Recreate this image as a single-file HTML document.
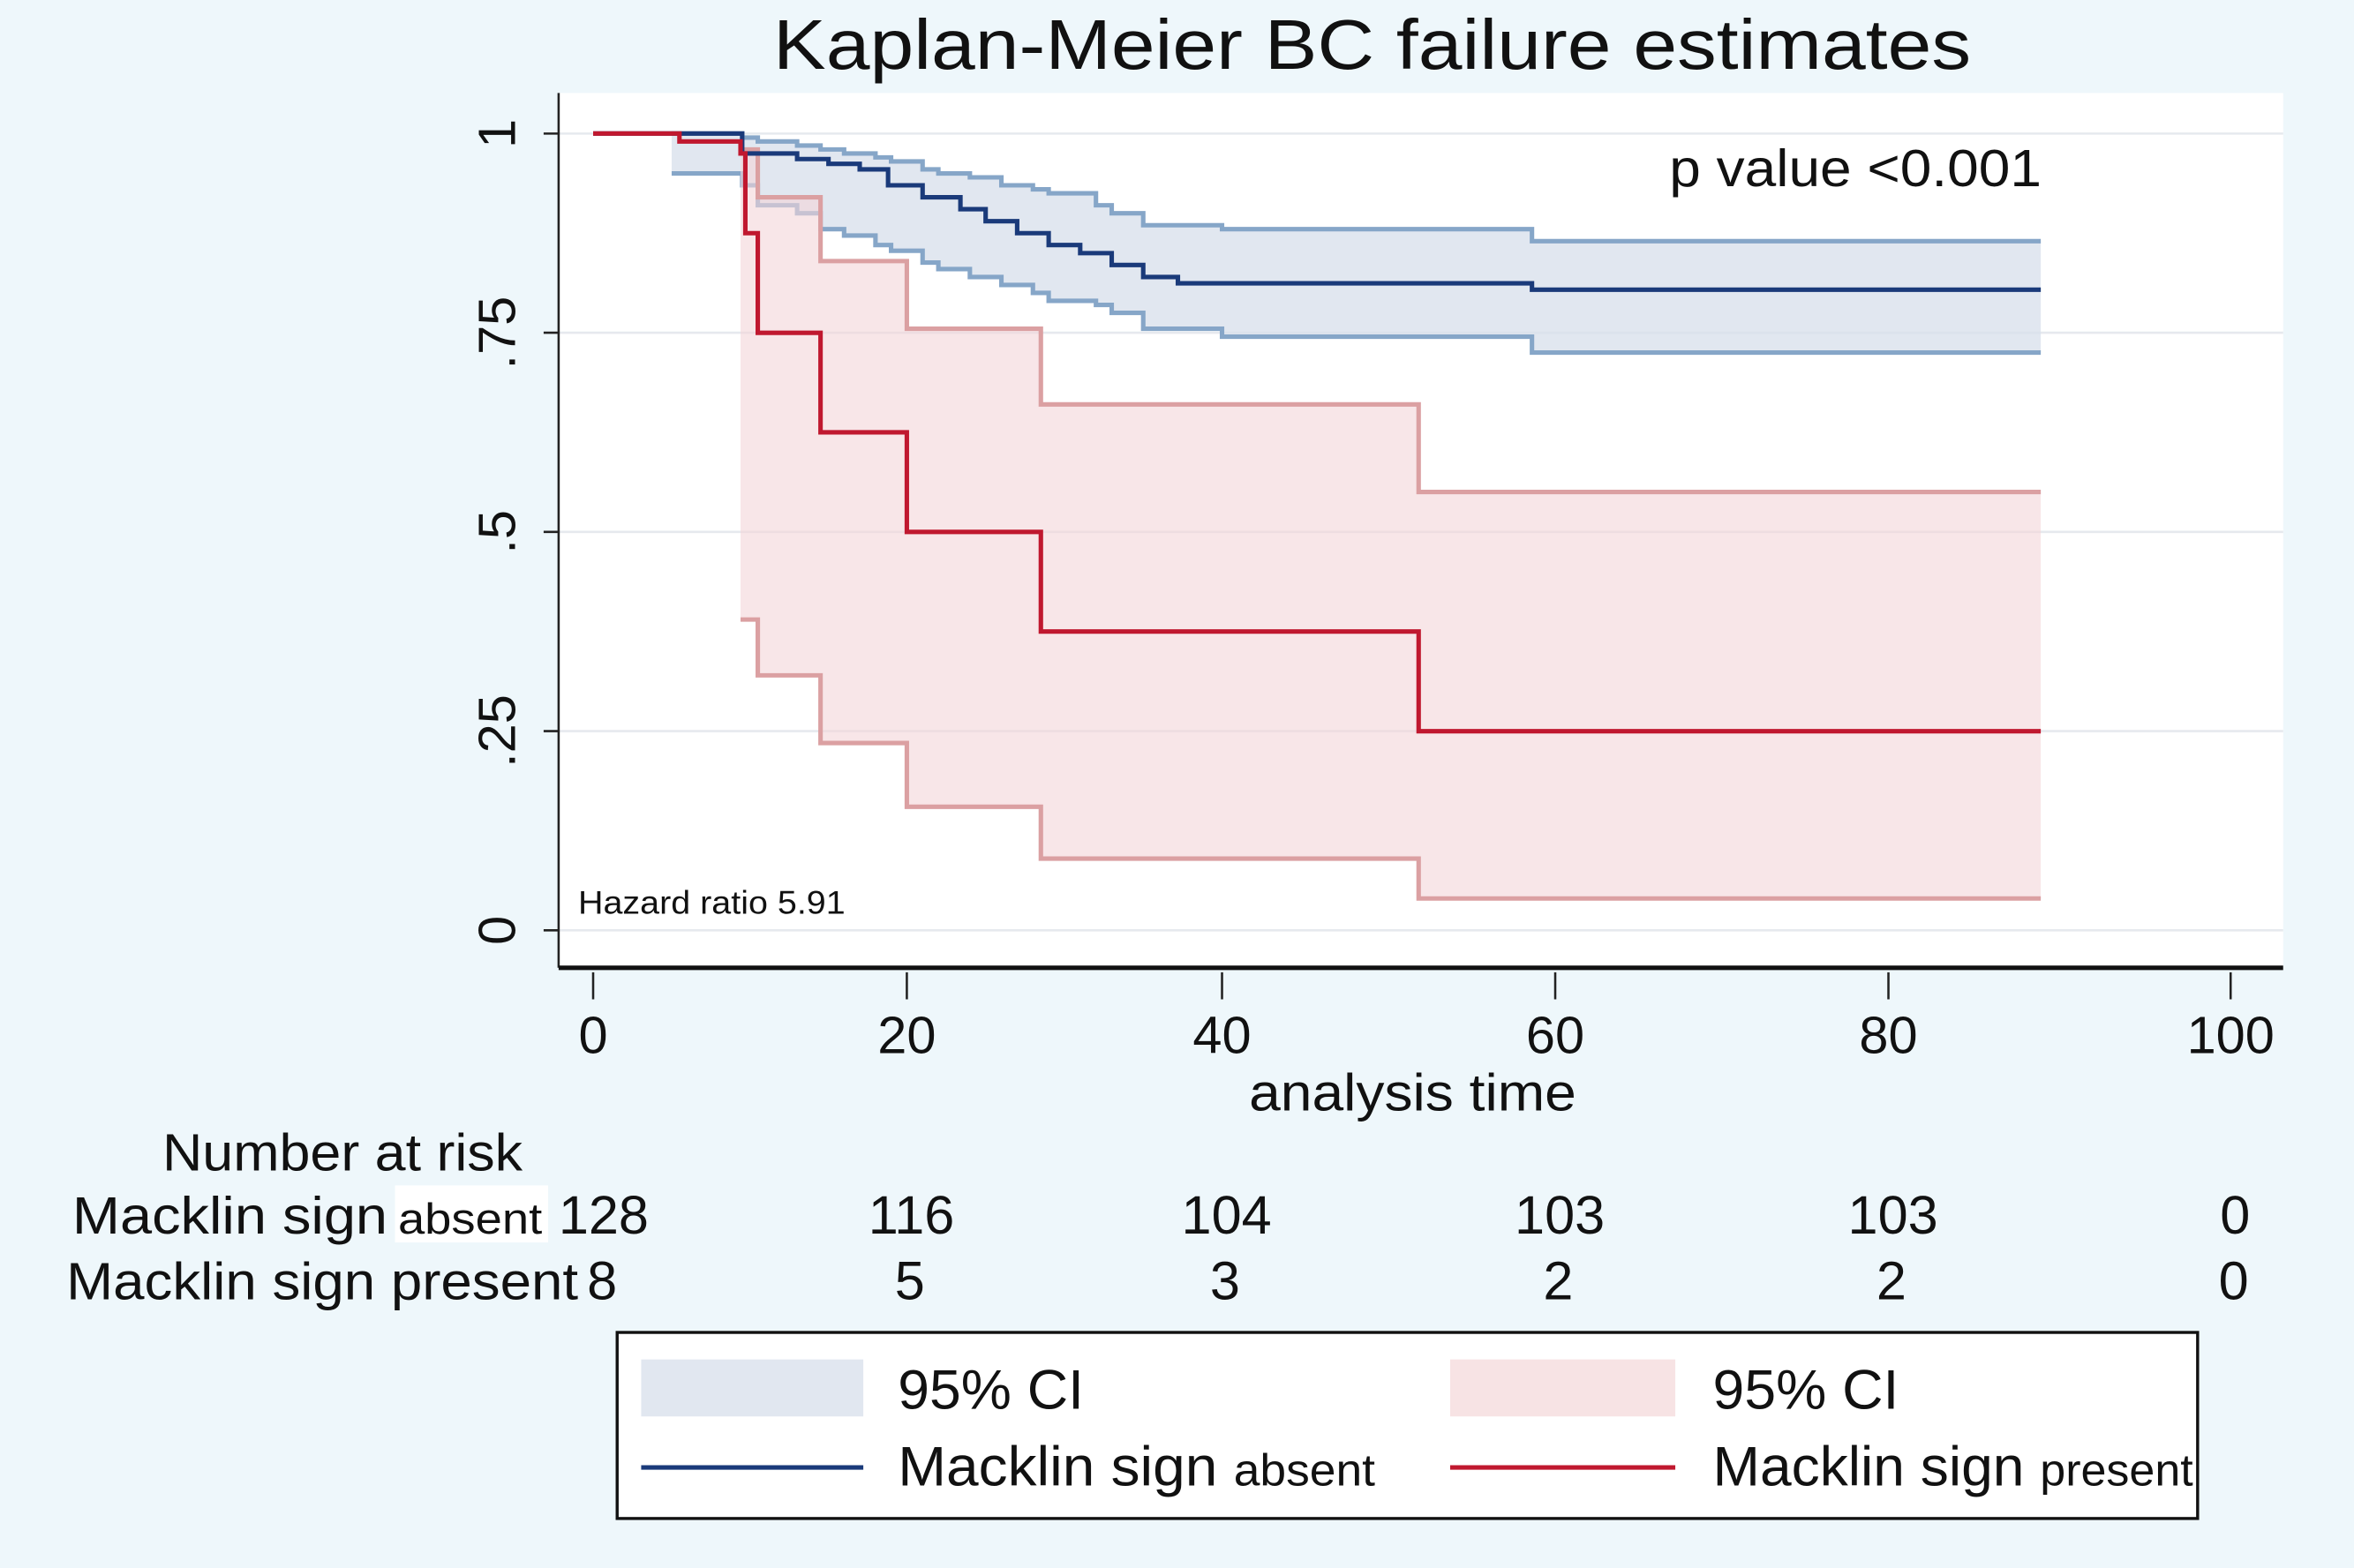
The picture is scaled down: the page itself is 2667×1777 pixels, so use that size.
<!DOCTYPE html>
<html><head><meta charset="utf-8"><style>
html,body{margin:0;padding:0;background:#eef7fb;}
svg{display:block;font-family:"Liberation Sans",sans-serif;}
</style></head><body>
<svg id="chart" width="2667" height="1777" viewBox="0 0 1568 1045" xmlns="http://www.w3.org/2000/svg">
<rect x="0" y="0" width="1568" height="1045" fill="#eef7fb"/>
<text x="515" y="46" font-size="47" textLength="798" lengthAdjust="spacingAndGlyphs" fill="#111">Kaplan-Meier BC failure estimates</text>
<rect x="372" y="62" width="1149" height="583" fill="#fff"/>
<g id="grid"></g>
<g id="bands"></g>
<g id="lines"></g>
<line x1="372" y1="62" x2="372" y2="645" stroke="#222" stroke-width="1.5"/>
<line x1="372" y1="645" x2="1521" y2="645" stroke="#111" stroke-width="3"/>
<g id="axes"></g>
<text x="1112" y="124" font-size="35" textLength="248" lengthAdjust="spacingAndGlyphs" fill="#111">p value &lt;0.001</text>
<text x="385" y="609" font-size="22" textLength="178" lengthAdjust="spacingAndGlyphs" fill="#111">Hazard ratio 5.91</text>
<text x="832" y="740" font-size="35" textLength="218" lengthAdjust="spacingAndGlyphs" fill="#111">analysis time</text>
<text x="108" y="780" font-size="35" textLength="240" lengthAdjust="spacingAndGlyphs" fill="#111">Number at risk</text>
<rect x="263" y="790" width="102" height="38" fill="#fff"/>
<text x="48" y="822" font-size="35" textLength="210" lengthAdjust="spacingAndGlyphs" fill="#111">Macklin sign</text>
<text x="265" y="822" font-size="29" textLength="96" lengthAdjust="spacingAndGlyphs" fill="#111">absent</text>
<text x="44" y="866" font-size="35" textLength="341" lengthAdjust="spacingAndGlyphs" fill="#111">Macklin sign present</text>
<g id="risk"></g>
<g>
<rect x="411" y="888" width="1053" height="124" fill="#fff" stroke="#111" stroke-width="2"/>
<rect x="427" y="906" width="148" height="38" fill="#e1e7f0"/>
<text x="598" y="939" font-size="37" textLength="124" lengthAdjust="spacingAndGlyphs" fill="#111">95% CI</text>
<rect x="966" y="906" width="150" height="38" fill="#f7e3e4"/>
<text x="1141" y="939" font-size="37" textLength="124" lengthAdjust="spacingAndGlyphs" fill="#111">95% CI</text>
<line x1="427" y1="978" x2="575" y2="978" stroke="#1a3a7a" stroke-width="3"/>
<text x="598" y="990" font-size="37" textLength="318" lengthAdjust="spacingAndGlyphs" fill="#111">Macklin sign <tspan font-size="30">absent</tspan></text>
<line x1="966" y1="978" x2="1116" y2="978" stroke="#c0182f" stroke-width="3"/>
<text x="1141" y="990" font-size="37" textLength="320" lengthAdjust="spacingAndGlyphs" fill="#111">Macklin sign <tspan font-size="30">present</tspan></text>
</g>
</svg>
<script>
const NS="http://www.w3.org/2000/svg";
const xTicks=[0,20,40,60,80,100];
const yTicks=[0,0.25,0.5,0.75,1];
const yTickLabels=["0",".25",".5",".75","1"];
const riskTimes=[0,20,40,60,80,100];
const riskAbsent=[128,116,104,103,103,0];
const riskPresent=[8,5,3,2,2,0];
const endTime=88.9;
// absent (blue) curve
const absT=[0,9.5,13,15,17,18.8,21,23.4,25,27,29,31,33,35,37.2,58.6];
const absS=[1,0.975,0.968,0.962,0.955,0.935,0.92,0.905,0.89,0.875,0.86,0.85,0.835,0.82,0.812,0.804];
const absCiT=[5,9.5,10.5,13,14.5,16,18,19,21,22,24,26,28,29,32,33,35,40,58.6];
const absUp=[1,0.995,0.99,0.985,0.98,0.975,0.97,0.965,0.955,0.95,0.945,0.935,0.93,0.925,0.91,0.9,0.885,0.88,0.865];
const absLo=[0.95,0.935,0.91,0.9,0.88,0.872,0.86,0.853,0.838,0.83,0.82,0.81,0.8,0.79,0.785,0.775,0.755,0.745,0.725];
// present (red) curve
const preT=[0,5.5,9.4,9.7,10.5,14.5,20,28.5,51.8];
const preS=[1,0.99,0.975,0.875,0.75,0.625,0.5,0.375,0.25];
const preCiT=[9.4,10.5,14.5,20,28.5,51.8];
const preUp=[0.98,0.92,0.84,0.755,0.66,0.55];
const preLo=[0.39,0.32,0.235,0.155,0.09,0.04];

// axis (x ticks in reference are not evenly spaced; piecewise-linear mapping)
const xTickPx=[395,604,814,1036,1258,1486];
function X(t){
  let i=0;while(i<xTicks.length-2&&t>xTicks[i+1])i++;
  const f=(t-xTicks[i])/(xTicks[i+1]-xTicks[i]);
  return xTickPx[i]+f*(xTickPx[i+1]-xTickPx[i]);
}
const Y=v=>620-v*(620-89);
function mk(tag,attrs,parent){const e=document.createElementNS(NS,tag);for(const k in attrs)e.setAttribute(k,attrs[k]);document.getElementById(parent).appendChild(e);return e;}
function stepPts(T,S){let p=[];for(let i=0;i<T.length;i++){if(i>0)p.push([X(T[i]),Y(S[i-1])]);p.push([X(T[i]),Y(S[i])]);}p.push([X(endTime),Y(S[S.length-1])]);return p;}
const d=p=>"M"+p.map(q=>q[0].toFixed(1)+","+q[1].toFixed(1)).join("L");

yTicks.forEach((v,i)=>{
  const g=mk("line",{x1:372,x2:1521,y1:Y(v),y2:Y(v),stroke:"#e6e9ee","stroke-width":1.5},"grid");
  
  
  const t=mk("line",{x1:362,x2:372,y1:Y(v),y2:Y(v),stroke:"#222","stroke-width":1.5},"axes");
  
  
  const l=mk("text",{x:0,y:0,"font-size":35,"text-anchor":"middle",fill:"#111",transform:`translate(343,${Y(v)}) rotate(-90)`},"axes");
  l.textContent=yTickLabels[i];
  
  
});
xTicks.forEach(v=>{
  const t=mk("line",{x1:X(v),x2:X(v),y1:648,y2:666,stroke:"#222","stroke-width":1.5},"axes");
  
  
  const l=mk("text",{x:X(v),y:702,"font-size":35,"text-anchor":"middle",fill:"#111"},"axes");
  l.textContent=v;
  
  
});
function band(T,U,L,fill,stroke,name){
  const up=stepPts(T,U),lo=stepPts(T,L);
  const poly=up.concat(lo.slice().reverse());
  const f=mk("path",{d:d(poly)+"Z",fill:fill},"bands");
  
  
  const a=mk("path",{d:d(up),fill:"none",stroke:stroke,"stroke-width":3},"bands");
  
  
  const b=mk("path",{d:d(lo),fill:"none",stroke:stroke,"stroke-width":3},"bands");
  
  
}
band(absCiT,absUp,absLo,"rgba(215,223,235,0.75)","#86a6c8","absent");
band(preCiT,preUp,preLo,"rgba(244,214,216,0.6)","#dba0a2","present");
const la=mk("path",{d:d(stepPts(absT,absS)),fill:"none",stroke:"#1a3a7a","stroke-width":3},"lines");


const lp=mk("path",{d:d(stepPts(preT,preS)),fill:"none",stroke:"#c0182f","stroke-width":3},"lines");


riskTimes.forEach((t,i)=>{
  const xa=i===0?402:X(t)+3;
  const xb=i===0?401:X(t)+2;
  const a=mk("text",{x:xa,y:822,"font-size":36,"text-anchor":"middle",fill:"#111"},"risk");
  a.textContent=riskAbsent[i];
  
  
  const b=mk("text",{x:xb,y:866,"font-size":36,"text-anchor":"middle",fill:"#111"},"risk");
  b.textContent=riskPresent[i];
  
  
});
</script>
</body></html>
